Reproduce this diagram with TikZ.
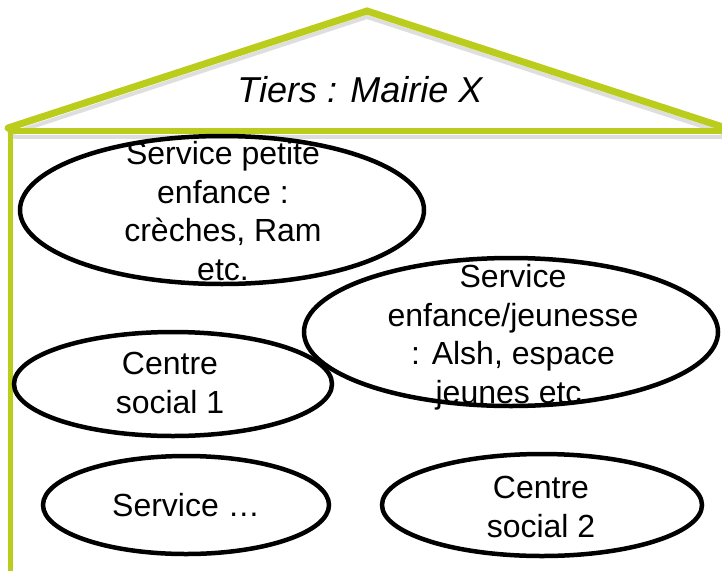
\documentclass[tikz,border=0pt]{standalone}
\usepackage{fontspec}
\setmainfont{Liberation Sans}
\usetikzlibrary{shapes.geometric,positioning}
\definecolor{roofgreen}{RGB}{186,204,28}
\tikzset{
	roofline/.style={draw=roofgreen, line width=7pt, line cap=round, line join=miter},
	roofshade/.style={draw=black!13, line width=4pt, line cap=round},
	bubble/.style={draw, ellipse, line width=4.5pt, inner sep=0pt},
	bubbletext/.style={align=center, inner sep=0pt, font=\fontsize{32pt}{38.5pt}\selectfont}
}

\begin{document}
\begin{tikzpicture}[x=1pt,y=-1pt]
	\useasboundingbox (0,0) rectangle (722,570);
	% house outline
	\coordinate (eaveL) at (8,128);
	\coordinate (ridge) at (367,11);
	\coordinate (eaveR) at (735,131);
	\coordinate (beamL) at (10,131);
	\coordinate (beamR) at (735,131);
	\coordinate (wallB) at (10,578);
	\draw[roofshade] ([shift={(2,6)}]eaveL) -- ([shift={(0,6)}]ridge) -- ([shift={(0,6)}]eaveR);
	\draw[roofshade] ([shift={(4,6)}]beamL) -- ([shift={(0,6)}]beamR);
	\draw[roofline] (eaveL) -- (ridge) -- (eaveR);
	\draw[roofline, line width=5.5pt] (beamL) -- (beamR);
	\draw[roofline, line width=5pt] (beamL) -- (wallB);
	% title
	\node[font=\fontsize{36pt}{43pt}\selectfont\itshape,
	anchor=base] (tiers) at (360,102) {Tiers : Mairie X};
	% ellipses
	\node[bubble,
	minimum width=404pt,
	minimum height=148pt] (petite) at (222,210) {};
	\node[bubble,
	minimum width=414pt,
	minimum height=148pt] (jeunesse) at (511,332) {};
	\node[bubble,
	minimum width=318pt,
	minimum height=104pt] (social1) at (173,384) {};
	\node[bubble,
	minimum width=286pt,
	minimum height=98pt] (autre) at (186,505) {};
	\node[bubble,
	minimum width=320pt,
	minimum height=102pt] (social2) at (542,505) {};
	% texts
	\node[bubbletext] (petiteTxt) at (223,211) {Service petite\\enfance :\\crèches, Ram\\etc.};
	\node[bubbletext] (jeunesseTxt) at (513,337) {Service\\enfance/jeunesse\\: Alsh, espace\\jeunes etc.};
	\node[bubbletext] (social1Txt) at (170,383) {Centre\\social 1};
	\node[bubbletext] (autreTxt) at (186,505) {Service …};
	\node[bubbletext] (social2Txt) at (541,507) {Centre\\social 2};
\end{tikzpicture}
\end{document}
